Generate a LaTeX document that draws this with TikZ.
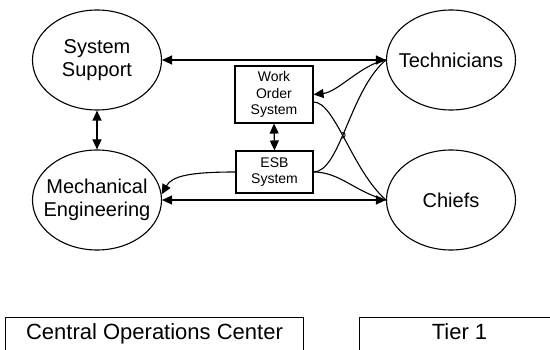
\documentclass[tikz,border=0pt]{standalone}
\usepackage{fontspec}
\setmainfont{Liberation Sans}
\usetikzlibrary{shapes.geometric,arrows.meta,intersections}
\begin{document}
\begin{tikzpicture}[x=1pt,y=-1pt,
  ell/.style={draw,ellipse,line width=1.1pt,minimum width=129pt,minimum height=100pt,inner xsep=-14pt,inner ysep=0pt,align=center,font=\fontsize{20}{23}\selectfont},
  sbox/.style={draw,rectangle,line width=1.1pt,inner sep=0pt,align=center,font=\fontsize{14}{16.5}\selectfont},
  tierbox/.style={draw,line width=1pt,anchor=north west,text height=16pt,text depth=5pt,inner ysep=6pt,font=\fontsize{22}{26}\selectfont},
  conn/.style={line width=1.1pt},
  both/.style={{Triangle[length=10pt,width=9pt]}-{Triangle[length=10pt,width=9pt]}},
  tipend/.style={-{Triangle[length=10pt,width=9pt]}},
  tipstart/.style={{Triangle[length=10pt,width=9pt]}-}
]
\useasboundingbox (0,0) rectangle (550,350);
\clip (0,0) rectangle (550,350);

\node[ell] (ss) at (97,60) {System\\Support};
\node[ell] (tech) at (451,60) {Technicians};
\node[ell] (mech) at (97,200) {Mechanical\\Engineering};
\node[ell] (chiefs) at (451,200) {Chiefs};
\node[sbox,minimum width=78pt,minimum height=57pt] (wo) at (274,94.5) {Work\\Order\\System};
\node[sbox,minimum width=77pt,minimum height=42pt] (esb) at (274.5,172) {ESB\\System};

\node[tierbox,minimum width=298pt] (coc) at (5,317) {Central Operations Center};
\node[tierbox,minimum width=200pt] (tier) at (359,317) {Tier 1};

\draw[conn,both] (ss.east) -- (tech.west);
\draw[conn,both] (ss.south) -- (mech.north);
\draw[conn,both] (mech.east) -- (chiefs.west);
\draw[conn,both] (wo.south) -- (esb.north);

\draw[conn,tipstart] (wo.east) .. controls (338,92) and (362,64) .. (tech.west);
\draw[conn,name path=woch] ([yshift=-7.5pt]wo.east) .. controls (335,102) and (352,170) .. (chiefs.west);
\draw[conn,name path=esbte] (esb.east) .. controls (340,172) and (350,90) .. (tech.west);
\draw[conn] (esb.east) .. controls (340,172) and (355,192) .. (chiefs.west);
\draw[conn,tipend] (esb.west) .. controls (190,172) and (172,176) .. (mech.5);

\path[name intersections={of=woch and esbte,by=hop}];
\draw[line width=0.9pt] ([xshift=-0.5pt,yshift=3pt]hop) .. controls +(4.5,0) and +(4.5,0) .. ([xshift=-1.5pt,yshift=-3pt]hop);
\end{tikzpicture}
\end{document}
